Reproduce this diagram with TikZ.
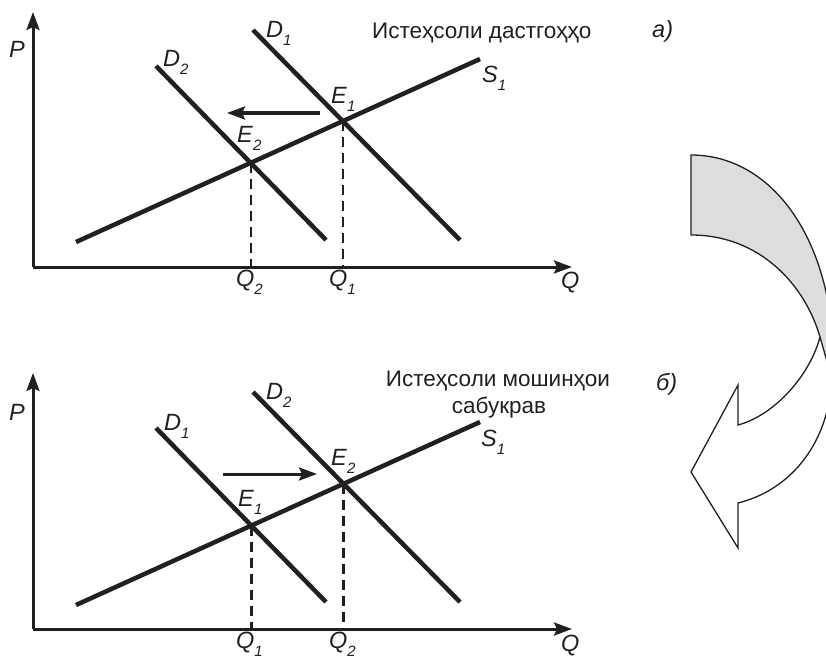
\documentclass[tikz,border=0pt]{standalone}
\usepackage{fontspec}
\setmainfont{Liberation Sans}
\usetikzlibrary{arrows.meta}
\definecolor{ribgray}{RGB}{220,221,223}
\definecolor{ink}{RGB}{35,31,32}
\newcommand\lbl[2]{\textit{#1}\raisebox{-8pt}{\fontsize{15}{15}\selectfont\textit{#2}}}
\begin{document}
\begin{tikzpicture}[x=1pt,y=-1pt,
  lab/.style={inner sep=0pt, anchor=base west, text=ink, font=\fontsize{23.5}{26}\selectfont},
  ttl/.style={inner sep=0pt, anchor=base, text=ink, font=\fontsize{22.5}{26}\selectfont},
  curve/.style={draw=ink, line width=4.5pt},
  axis/.style={draw=ink, line width=3pt, -{Stealth[length=18pt,width=13pt,inset=3pt]}},
  guide/.style={draw=ink, line width=2.3pt, dash pattern=on 10pt off 6pt},
  shiftarrow/.style={draw=ink, line width=3pt, -{Stealth[length=18pt,width=13pt,inset=3pt]}},
  rib/.style={draw=ink, line width=1.3pt, line join=miter}]
\useasboundingbox (0,0) rectangle (826,658);

% ---------- top graph ----------
\coordinate (O1) at (33,267);
\coordinate (Y1) at (33,12);
\coordinate (X1) at (572,267);
\coordinate (s1a) at (76,242);
\coordinate (s1b) at (480,59);
\coordinate (d1a) at (253,30);
\coordinate (d1b) at (460,240);
\coordinate (d2a) at (156,66);
\coordinate (d2b) at (326,240);
\coordinate (ar1a) at (320,113);
\coordinate (ar1b) at (227,113);
\coordinate (E1t) at (intersection of s1a--s1b and d1a--d1b);
\coordinate (E2t) at (intersection of s1a--s1b and d2a--d2b);

\draw[guide] (E1t) -- (E1t |- O1);
\draw[guide] (E2t) -- (E2t |- O1);
\draw[axis] (O1) -- (Y1);
\draw[axis] (O1) -- (X1);
\draw[curve] (s1a) -- (s1b);
\draw[curve] (d1a) -- (d1b);
\draw[curve] (d2a) -- (d2b);
\draw[shiftarrow] (ar1a) -- (ar1b);

\node[lab] (tP) at (9,58) {\textit{P}};
\node[lab] (tD1) at (266,38) {\lbl{D}{1}};
\node[lab] (tD2) at (163,67) {\lbl{D}{2}};
\node[lab] (tE1) at (331,103) {\lbl{E}{1}};
\node[lab] (tE2) at (237,142) {\lbl{E}{2}};
\node[lab] (tQ2) at (236,286) {\lbl{Q}{2}};
\node[lab] (tQ1) at (329,286) {\lbl{Q}{1}};
\node[lab] (tS1) at (482,83) {\lbl{S}{1}};
\node[lab] (tQ) at (561,288) {\textit{Q}};
\node[lab] (ta) at (652,38) {\textit{а)}};
\node[ttl, anchor=base west] (ttitle) at (372,39) {Истеҳсоли дастгоҳҳо};

% ---------- bottom graph ----------
\coordinate (O2) at (33,629);
\coordinate (Y2) at (33,373);
\coordinate (X2) at (572,629);
\coordinate (s2a) at (76,605);
\coordinate (s2b) at (480,422);
\coordinate (e1a) at (156,428);
\coordinate (e1b) at (326,602);
\coordinate (e2a) at (253,392);
\coordinate (e2b) at (460,602);
\coordinate (ar2a) at (223,474);
\coordinate (ar2b) at (317,474);
\coordinate (E1b) at (intersection of s2a--s2b and e1a--e1b);
\coordinate (E2b) at (intersection of s2a--s2b and e2a--e2b);

\draw[guide] (E1b) -- (E1b |- O2);
\draw[guide] (E2b) -- (E2b |- O2);
\draw[axis] (O2) -- (Y2);
\draw[axis] (O2) -- (X2);
\draw[curve] (s2a) -- (s2b);
\draw[curve] (e1a) -- (e1b);
\draw[curve] (e2a) -- (e2b);
\draw[shiftarrow] (ar2a) -- (ar2b);

\node[lab] (bP) at (9,420) {\textit{P}};
\node[lab] (bD1) at (164,430) {\lbl{D}{1}};
\node[lab] (bD2) at (266,399) {\lbl{D}{2}};
\node[lab] (bE2) at (331,465) {\lbl{E}{2}};
\node[lab] (bE1) at (238,506) {\lbl{E}{1}};
\node[lab] (bQ1) at (236,648) {\lbl{Q}{1}};
\node[lab] (bQ2) at (329,648) {\lbl{Q}{2}};
\node[lab] (bS1) at (481,446) {\lbl{S}{1}};
\node[lab] (bQ) at (561,651) {\textit{Q}};
\node[lab] (bb) at (656,390) {\textit{б)}};
\node[ttl] (btitle1) at (498,386) {Истеҳсоли мошинҳои};
\node[ttl] (btitle2) at (499,413) {сабукрав};

% ---------- twisted arrow ----------
\begin{scope}
\clip (0,0) rectangle (826,658);
\fill[ribgray] (691,155) .. controls (765,155) and (822,225) .. (832,330)
  -- (832,379) -- (820,337) .. controls (805,285) and (760,235) .. (691,235) -- cycle;
\draw[rib] (691,235) -- (691,155) .. controls (765,155) and (822,225) .. (832,330);
\draw[rib] (691,235) .. controls (760,235) and (805,285) .. (820,337) -- (832,379);
\draw[rib] (820,337) .. controls (810,375) and (775,415) .. (738,425)
  -- (738,385) -- (691,472) -- (738,548) -- (738,503)
  .. controls (790,490) and (828,445) .. (832,379);
\end{scope}
\end{tikzpicture}
\end{document}
